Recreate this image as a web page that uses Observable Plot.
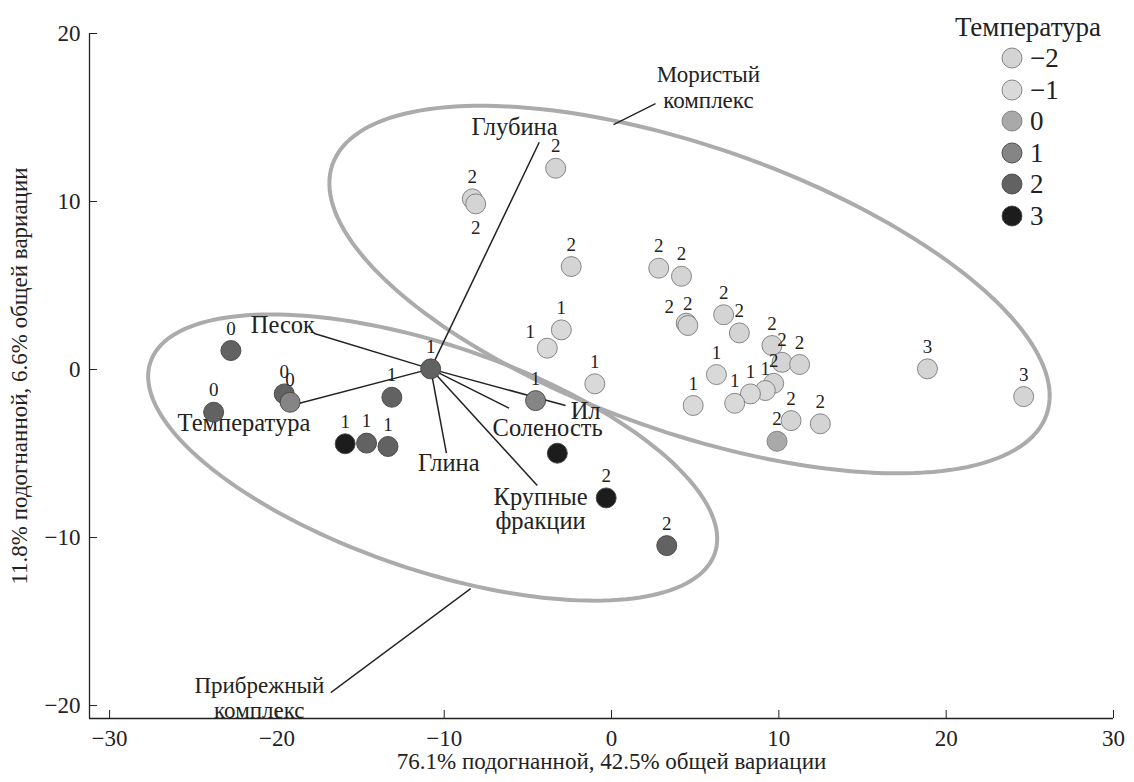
<!DOCTYPE html>
<html><head><meta charset="utf-8">
<script src="https://cdn.jsdelivr.net/npm/d3@7"></script>
<script src="https://cdn.jsdelivr.net/npm/@observablehq/plot@0.6"></script>
<style>
body{margin:0;background:#fff;font-family:"Liberation Serif","Times New Roman","DejaVu Serif",serif;}
#wrap{position:relative;width:1134px;height:782px;}
#legend{position:absolute;left:950px;top:11px;font-size:27px;color:#222;}
#legend .t{width:156px;text-align:center;line-height:32px;}
#legend .row{position:relative;height:31.6px;}
#legend svg{position:absolute;left:51px;top:2px;}
#legend .row span{position:absolute;left:80px;top:0px;line-height:30px;}
</style></head><body><div id="wrap"></div>
<script>
// ---- data ----
const pointX = [-8.32,-8.12,-3.34,-2.41,2.82,4.18,4.46,4.56,6.70,7.64,9.59,10.19,11.24,9.69,9.19,8.30,7.36,6.27,4.88,10.73,12.48,9.89,-3.00,-3.84,-1.00,18.88,24.63,
  -10.81,-4.54,-3.24,-0.32,3.30,-22.75,-23.78,-19.56,-19.21,-13.13,-15.92,-14.64,-13.36];
const pointY = [10.16,9.86,11.98,6.13,6.03,5.55,2.76,2.62,3.26,2.18,1.43,0.43,0.30,-0.82,-1.25,-1.45,-2.01,-0.30,-2.14,-3.04,-3.23,-4.27,2.36,1.27,-0.85,0.04,-1.61,
  0.04,-1.85,-4.98,-7.64,-10.48,1.13,-2.54,-1.45,-1.95,-1.65,-4.42,-4.38,-4.58];
const pointTemp = [-2,-2,-2,-2,-2,-2,-2,-2,-2,-2,-2,-2,-2,-2,-1,-1,-1,-1,-1,-2,-2,0,-1,-1,-1,-2,-2,
  2,1,3,3,2,2,2,2,1,2,3,2,2];
const pointLabel = ["2","2","2","2","2","2","2","2","2","2","2","2","2","2","1","1","1","1","1","2","2","2","1","1","1","3","3",
  "1","1","","2","2","0","0","0","0","1","1","1","1"];
const pointLabelPos = ["above","below","above","above","above","above","left","above","above","above","above","above","above","above","above","above","above","above","above","above","above","above","above","left","above","above","above",
  "above","above","above","above","above","above","above","above","above","above","above","above","above"];

const tempLevels = [-2,-1,0,1,2,3];
const tempLabels = ["−2","−1","0","1","2","3"];
const tempColors = ["#d4d4d4","#d9d9d9","#a9a9a9","#858585","#626262","#1c1c1c"];

const vecOrigin = [-10.81, 0.04];
const vecName = ["Глубина","Песок","Температура","Глина","Ил","Соленость","Крупные\nфракции"];
const vecX = [-4.32,-17.81,-18.76,-9.87,-2.75,-6.13,-4.44];
const vecY = [13.53,2.16,-2.04,-4.98,-2.14,-2.30,-6.90];
const vecLabelX = [-5.80,-19.64,-21.97,-9.73,-1.55,-3.82,-4.24];
const vecLabelY = [14.40,2.62,-3.21,-5.60,-2.50,-3.50,-8.33];

const groupName = ["Мористый\nкомплекс","Прибрежный\nкомплекс"];
const groupCx = [4.66,-10.69];
const groupCy = [4.76,-5.24];
const groupA = [22.6,17.8];
const groupB = [8.5,6.7];
const groupAngle = [-19.2,-18.6];
const groupLabelX = [5.79,-21.05];
const groupLabelY = [16.85,-19.5];
const calloutX1 = [2.63,-16.78];
const calloutY1 = [15.83,-19.23];
const calloutX2 = [0.12,-8.42];
const calloutY2 = [14.58,-13.04];

const xTicks = [-30,-20,-10,0,10,20,30];
const yTicks = [-20,-10,0,10,20];
const xTitle = "76.1% подогнанной, 42.5% общей вариации";
const yTitle = "11.8% подогнанной, 6.6% общей вариации";
const xTitleAt = 0;
const xDomain = [-31.2, 30];
const yDomain = [-20.77, 20];

// ---- build ----
const FONT = '"Liberation Serif", "Times New Roman", "DejaVu Serif", serif';
const points = pointX.map((x,i)=>({x, y: pointY[i], temp: pointTemp[i], label: pointLabel[i], pos: pointLabelPos[i]}));
const colorOf = t => tempColors[tempLevels.indexOf(t)];
const vectors = vecName.map((n,i)=>({name:n, x1:vecOrigin[0], y1:vecOrigin[1], x2:vecX[i], y2:vecY[i], lx:vecLabelX[i], ly:vecLabelY[i]}));
const ellipses = [];
groupName.forEach((g,i)=>{
  const t = groupAngle[i]*Math.PI/180;
  d3.range(0,360,2).forEach(k=>{
    const u = k*Math.PI/180;
    ellipses.push({g, x: groupCx[i] + groupA[i]*Math.cos(u)*Math.cos(t) - groupB[i]*Math.sin(u)*Math.sin(t),
                      y: groupCy[i] + groupA[i]*Math.cos(u)*Math.sin(t) + groupB[i]*Math.sin(u)*Math.cos(t)});
  });
});
const groups = groupName.map((g,i)=>({g, lx:groupLabelX[i], ly:groupLabelY[i], x1:calloutX1[i], y1:calloutY1[i], x2:calloutX2[i], y2:calloutY2[i]}));
const fmt = d => d < 0 ? "−" + Math.abs(d) : String(d);

const chart = Plot.plot({
  width: 1134, height: 782,
  marginLeft: 89, marginRight: 21, marginTop: 33, marginBottom: 64,
  style: {fontFamily: FONT, fontSize: "23px", color: "#222", background: "#fff"},
  x: {domain: xDomain},
  y: {domain: yDomain},
  marks: [
    Plot.line(ellipses, {x:"x", y:"y", z:"g", curve:"linear-closed", stroke:"#ababab", strokeWidth:4}),
    Plot.link(groups, {x1:"x1", y1:"y1", x2:"x2", y2:"y2", stroke:"#222", strokeWidth:1.3}),
    Plot.text(groups, {x:"lx", y:"ly", text:"g", fontSize:23, fontFamily: FONT, lineHeight:1.12, fill:"#222"}),
    Plot.link(vectors, {x1:"x1", y1:"y1", x2:"x2", y2:"y2", stroke:"#222", strokeWidth:1.5}),
    Plot.text(vectors, {x:"lx", y:"ly", text:"name", fontSize:24.5, fontFamily: FONT, lineHeight:0.95, fill:"#222"}),
    Plot.dot(points, {x:"x", y:"y", r:10, fill: d=>colorOf(d.temp), stroke: d=> d.temp<=0 ? "#7a7a7a" : "#444", strokeWidth:0.9}),
    Plot.text(points.filter(d=>d.pos==="above"), {x:"x", y:"y", text:"label", dy:-22, fontSize:19, fontFamily: FONT, fill:"#222"}),
    Plot.text(points.filter(d=>d.pos==="below"), {x:"x", y:"y", text:"label", dy:24, fontSize:19, fontFamily: FONT, fill:"#222"}),
    Plot.text(points.filter(d=>d.pos==="left"), {x:"x", y:"y", text:"label", dx:-17, dy:-16, fontSize:19, fontFamily: FONT, fill:"#222"}),
    Plot.ruleX([xDomain[0]], {stroke:"#222", strokeWidth:1.3}),
    Plot.ruleY([yDomain[0]], {stroke:"#222", strokeWidth:1.3}),
    Plot.axisX({ticks: xTicks, tickFormat: fmt, tickSize: -8, tickPadding: 19, fontSize: 23, fontFamily: FONT, label: null}),
    Plot.text([xTitle], {x: () => xTitleAt, frameAnchor: "bottom", dy: 50, text: d => d, fontSize: 23, fontFamily: FONT, fill:"#222"}),
    Plot.axisY({ticks: yTicks, tickFormat: fmt, tickSize: -8, tickPadding: 17, fontSize: 23, fontFamily: FONT,
      label: yTitle, labelAnchor: "center", labelOffset: 79, labelArrow: "none", style: {fontSize: "24px"}})
  ]
});
const wrap = document.getElementById("wrap");
wrap.appendChild(chart);

// legend (inside plot area, top right)
const lg = document.createElement("div");
lg.id = "legend";
let html = '<div class="t">Температура</div>';
tempLevels.forEach((t,i)=>{
  html += `<div class="row"><svg width="22" height="26"><circle cx="11" cy="13" r="10" fill="${tempColors[i]}" stroke="${t<=0?'#7a7a7a':'#444'}" stroke-width="0.9"/></svg><span>${tempLabels[i]}</span></div>`;
});
lg.innerHTML = html;
wrap.appendChild(lg);
</script>
</body></html>
